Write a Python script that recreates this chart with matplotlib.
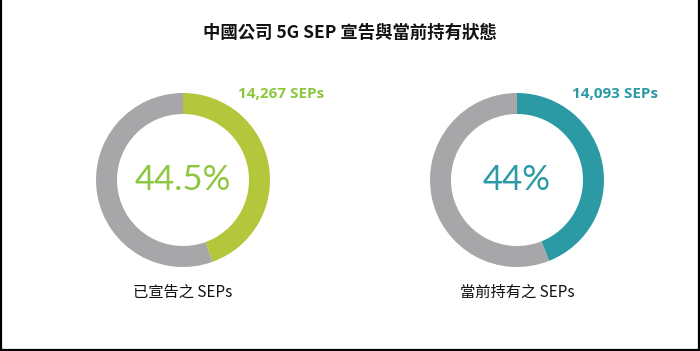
"""Donut chart: Chinese companies' 5G SEP declared vs currently held."""
import matplotlib
matplotlib.use("Agg")
import matplotlib.pyplot as plt
from matplotlib.lines import Line2D

TITLE = "中國公司 5G SEP 宣告與當前持有狀態"
categories = ["已宣告之 SEPs", "當前持有之 SEPs"]
shares = [44.5, 44.0]
share_labels = ["44.5%", "44%"]
sep_counts = ["14,267 SEPs", "14,093 SEPs"]

COLORS = ["#b4c63c", "#2b9aa4"]
TEXT_COLORS = ["#8dc63f", "#2b9aa4"]
GRAY = "#a7a6a8"
LATIN = ["Lato", "Noto Sans CJK TC", "DejaVu Sans"]
BOLD_LATIN = ["Open Sans", "DejaVu Sans"]
CJK = ["Noto Sans CJK TC", "DejaVu Sans"]

W, H = 700, 351
fig = plt.figure(figsize=(W / 100, H / 100), dpi=100)
ax = fig.add_axes([0, 0, 1, 1])

centers_x = [183, 517]
cy = H - 180
radius = 87
ring = 21

for i, share in enumerate(shares):
    cx = centers_x[i]
    ax.pie(
        [share, 100 - share],
        colors=[COLORS[i], GRAY],
        startangle=90,
        counterclock=False,
        center=(cx, cy),
        radius=radius,
        wedgeprops=dict(width=ring, linewidth=0),
        frame=True,
    )
    ax.text(cx, cy, share_labels[i], ha="center", va="center",
            fontsize=25, color=TEXT_COLORS[i], family=LATIN)
    ax.text(cx + 55, H - 94, sep_counts[i], ha="left", va="center",
            fontsize=11, fontweight="bold", color=TEXT_COLORS[i], family=BOLD_LATIN)
    ax.text(cx, H - 292, categories[i], ha="center", va="center",
            fontsize=11, color="#111111", family=CJK)

ax.set_xlim(0, W)
ax.set_ylim(0, H)
ax.set_aspect("equal")
ax.axis("off")

fig.text(0.5, (H - 33) / H, TITLE, ha="center", va="center",
         fontsize=12.5, fontweight="bold", color="#111111", family=CJK)

# frame on left, right and bottom
for xs, ys in [([0.001, 0.001], [0, 1]), ([0.998, 0.998], [0, 1]), ([0, 1], [0.003, 0.003])]:
    fig.add_artist(Line2D(xs, ys, color="black", linewidth=1.6, transform=fig.transFigure))

fig.savefig("out.png", dpi=100, facecolor="white")
